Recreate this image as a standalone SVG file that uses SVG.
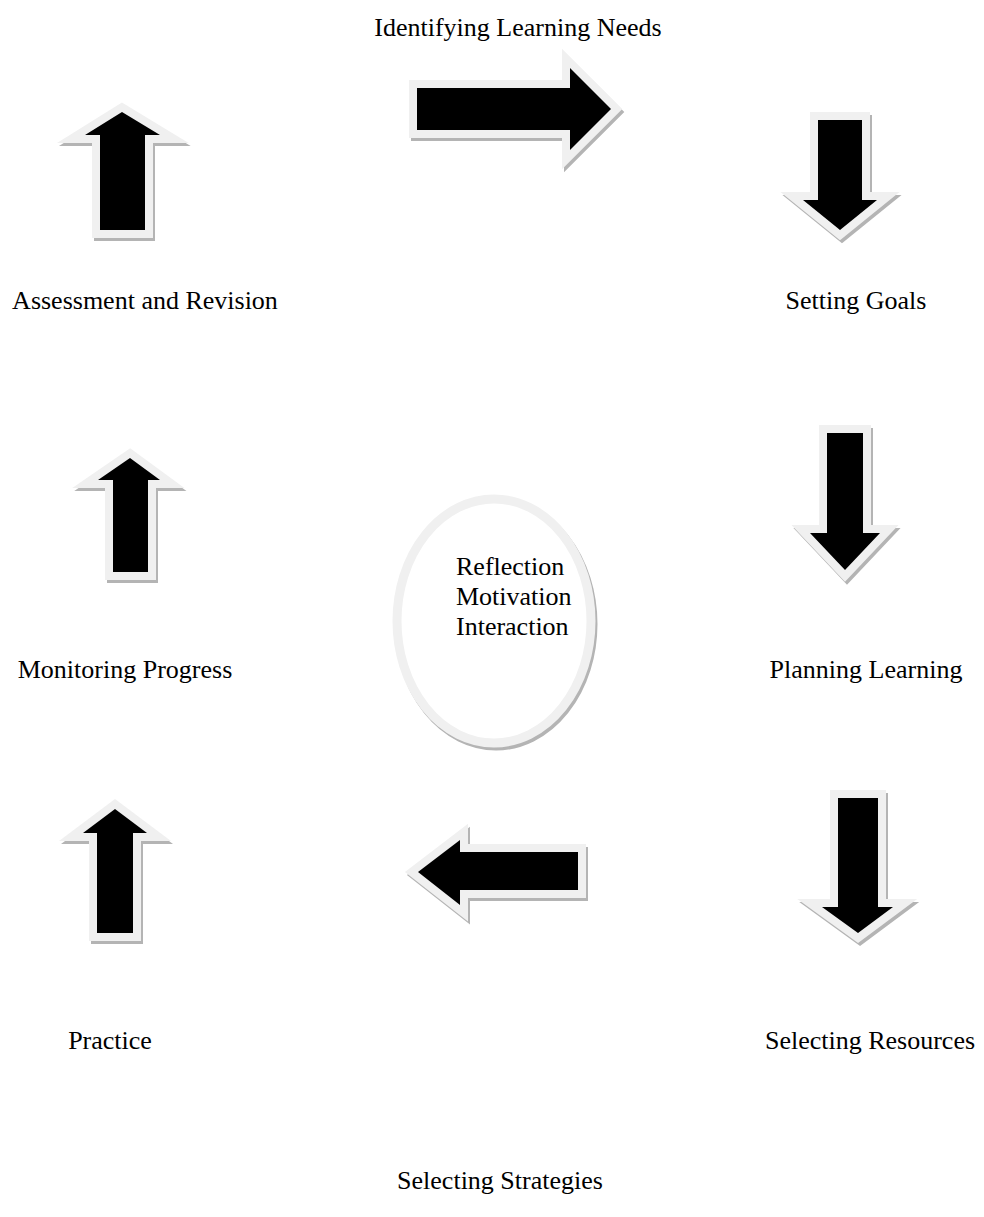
<svg xmlns="http://www.w3.org/2000/svg" width="984" height="1217" viewBox="0 0 984 1217">
<style>
text{font-family:"Liberation Serif","Times New Roman",serif;font-size:26px;fill:#000}
.lbl{text-anchor:middle}
.sh{fill:#b4b4b4;stroke:#b4b4b4;stroke-width:16;stroke-linejoin:miter}
.ar{fill:#000;stroke:#f0f0f0;stroke-width:16;stroke-linejoin:miter;paint-order:stroke}
.esh{fill:none;stroke:#b4b4b4;stroke-width:9}
.el{fill:#fff;stroke:#f0f0f0;stroke-width:9}
</style>
<rect width="984" height="1217" fill="#fff"/>
<g id="connectors">
<g id="arrow-right">
<polygon class="sh" transform="translate(2,3)" points="417,88 570,88 570,68 611,109 570,150 570,130 417,130"/>
<polygon class="ar" points="417,88 570,88 570,68 611,109 570,150 570,130 417,130"/>
</g>
<g id="arrow-down-1">
<polygon class="sh" transform="translate(2,3)" points="818,120 862,120 862,200 877,200 840,230 803,200 818,200"/>
<polygon class="ar" points="818,120 862,120 862,200 877,200 840,230 803,200 818,200"/>
</g>
<g id="arrow-down-2">
<polygon class="sh" transform="translate(2,3)" points="827,433 863,433 863,533 880,533 845,570 810,533 827,533"/>
<polygon class="ar" points="827,433 863,433 863,533 880,533 845,570 810,533 827,533"/>
</g>
<g id="arrow-down-3">
<polygon class="sh" transform="translate(2,3)" points="838,798 878,798 878,907 893,907 858,933 822,907 838,907"/>
<polygon class="ar" points="838,798 878,798 878,907 893,907 858,933 822,907 838,907"/>
</g>
<g id="arrow-left">
<polygon class="sh" transform="translate(2,3)" points="578,852 578,890 460,890 460,905 418,872 460,840 460,852"/>
<polygon class="ar" points="578,852 578,890 460,890 460,905 418,872 460,840 460,852"/>
</g>
<g id="arrow-up-1">
<polygon class="sh" transform="translate(2,3)" points="97,933 133,933 133,833 147,833 115,809 83,833 97,833"/>
<polygon class="ar" points="97,933 133,933 133,833 147,833 115,809 83,833 97,833"/>
</g>
<g id="arrow-up-2">
<polygon class="sh" transform="translate(2,3)" points="113,572 148,572 148,480 160,480 130,458 98,480 113,480"/>
<polygon class="ar" points="113,572 148,572 148,480 160,480 130,458 98,480 113,480"/>
</g>
<g id="arrow-up-3">
<polygon class="sh" transform="translate(2,3)" points="100,230 145,230 145,135 160,135 122,112 85,135 100,135"/>
<polygon class="ar" points="100,230 145,230 145,135 160,135 122,112 85,135 100,135"/>
</g>
</g>
<g id="center">
<ellipse class="esh" cx="496" cy="624" rx="97" ry="122"/>
<ellipse class="el" cx="494" cy="621" rx="97" ry="122"/>
<text x="456" y="575">Reflection</text>
<text x="456" y="605">Motivation</text>
<text x="456" y="635">Interaction</text>
</g>
<g id="n-identifying"><text class="lbl" x="518" y="36">Identifying Learning Needs</text></g>
<g id="n-setting"><text class="lbl" x="856" y="309">Setting Goals</text></g>
<g id="n-planning"><text class="lbl" x="866" y="678">Planning Learning</text></g>
<g id="n-resources"><text class="lbl" x="870" y="1049">Selecting Resources</text></g>
<g id="n-strategies"><text class="lbl" x="500" y="1189">Selecting Strategies</text></g>
<g id="n-practice"><text class="lbl" x="110" y="1049">Practice</text></g>
<g id="n-monitoring"><text class="lbl" x="125" y="678">Monitoring Progress</text></g>
<g id="n-assessment"><text class="lbl" x="145" y="309">Assessment and Revision</text></g>
</svg>
